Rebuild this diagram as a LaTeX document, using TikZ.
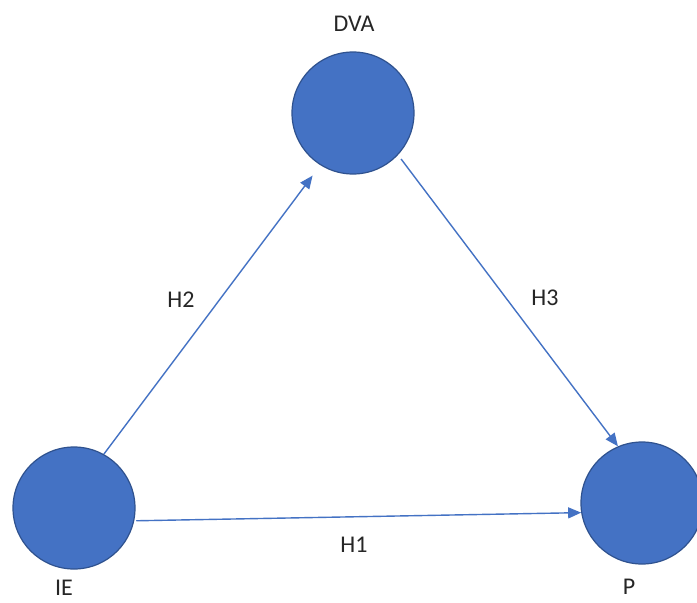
\documentclass[tikz,border=0pt]{standalone}
\usepackage{fontspec}
\setmainfont{Carlito}
\usetikzlibrary{arrows.meta}
\definecolor{nodeblue}{HTML}{4472C4}
\definecolor{nodeedge}{HTML}{2F528F}
\definecolor{labelgray}{HTML}{262626}
\begin{document}
\begin{tikzpicture}[x=1pt,y=-1pt,
  construct/.style={circle,fill=nodeblue,draw=nodeedge,line width=1.2pt,
    minimum size=122pt,inner sep=0pt},
  path/.style={draw=nodeblue,line width=1.4pt,
    -{Triangle[length=13pt,width=11pt]}},
  lbl/.style={font=\fontsize{24}{26}\selectfont,text=labelgray,inner sep=0pt}]
  \useasboundingbox (0,0) rectangle (697,603);
  \fill[white] (0,0) rectangle (697,603);

  % constructs
  \node[construct] (DVA) at (353,113) {};
  \node[construct] (IE)  at (74,508) {};
  \node[construct] (P)   at (642,503) {};

  % construct names
  \node[lbl] (tDVA) at (354,24) {DVA};
  \node[lbl] (tIE)  at (64,588) {IE};
  \node[lbl] (tP)   at (629,587) {P};

  % hypothesised paths
  \draw[path,shorten >=13pt] (IE.61) -- (DVA.238);
  \draw[path,shorten <=5pt] (DVA.-43) -- (P.113);
  \draw[path,shorten <=2pt] (IE.-12) -- (P.189);

  % path labels
  \node[lbl] (h2) at (181,300) {H2};
  \node[lbl] (h3) at (545,298) {H3};
  \node[lbl] (h1) at (354,545) {H1};
\end{tikzpicture}
\end{document}
